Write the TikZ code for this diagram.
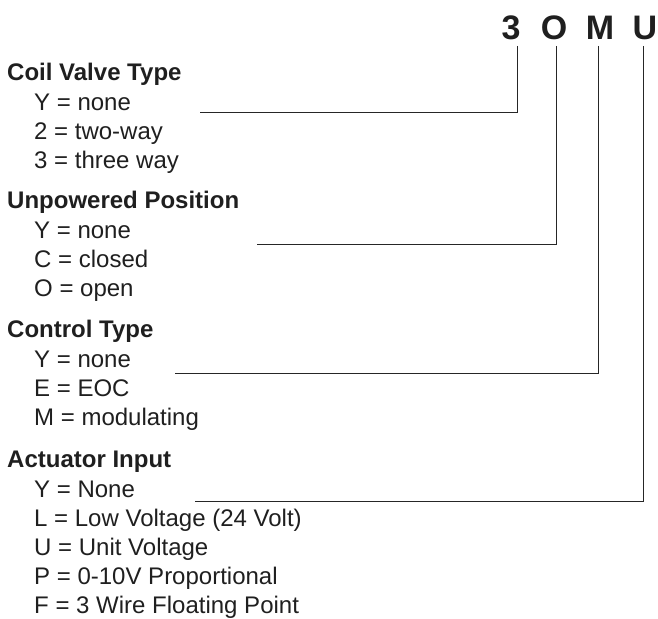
\documentclass[tikz,border=0pt]{standalone}
\usepackage{fontspec}
\setmainfont{Liberation Sans}
\begin{document}
\begin{tikzpicture}[x=1pt,y=-1pt,
  txt/.style={anchor=base west,inner sep=0pt,font=\fontsize{24}{27}\selectfont,text=black!88},
  head/.style={txt,font=\fontsize{24}{27}\selectfont\bfseries},
  code/.style={anchor=base,inner sep=0pt,font=\fontsize{34}{38}\selectfont\bfseries,text=black!88},
  lead/.style={draw=black!85,line width=1pt}]
\useasboundingbox (0,0) rectangle (658,618);
% code letters
\node[code] (c3) at (511,39.3) {3};
\node[code] (cO) at (554,39.3) {O};
\node[code] (cM) at (600,39.3) {M};
\node[code] (cU) at (645,39.3) {U};
% section 1
\node[head] (h1) at (7,80) {Coil Valve Type};
\node[txt] (a1) at (34,110.5) {Y = none};
\node[txt] (a2) at (34,139.5) {2 = two-way};
\node[txt] (a3) at (34,168.5) {3 = three way};
% section 2
\node[head] (h2) at (7,208.5) {Unpowered Position};
\node[txt] (b1) at (34,238.5) {Y = none};
\node[txt] (b2) at (34,267.5) {C = closed};
\node[txt] (b3) at (34,296.5) {O = open};
% section 3
\node[head] (h3) at (7,337) {Control Type};
\node[txt] (d1) at (34,367) {Y = none};
\node[txt] (d2) at (34,396.5) {E = EOC};
\node[txt] (d3) at (34,425.5) {M = modulating};
% section 4
\node[head] (h4) at (7,467.5) {Actuator Input};
\node[txt] (e1) at (34,497) {Y = None};
\node[txt] (e2) at (34,526) {L = Low Voltage (24 Volt)};
\node[txt] (e3) at (34,555) {U = Unit Voltage};
\node[txt] (e4) at (34,584.5) {P = 0-10V Proportional};
\node[txt] (e5) at (34,613) {F = 3 Wire Floating Point};
% connector coordinates
\coordinate (t3) at (517,46);
\coordinate (t O) at (556.5,46);
\coordinate (tM) at (598.5,46);
\coordinate (tU) at (643,46);
\coordinate (k3) at (517,112.3);
\coordinate (kO) at (556.5,244);
\coordinate (kM) at (598.5,373.3);
\coordinate (kU) at (643,501.7);
\coordinate (l3) at (200,112.3);
\coordinate (lO) at (256.5,244);
\coordinate (lM) at (175,373.3);
\coordinate (lU) at (195,501.7);
\draw[lead] (t3) -- (k3) -- (l3);
\draw[lead] (t O) -- (kO) -- (lO);
\draw[lead] (tM) -- (kM) -- (lM);
\draw[lead] (tU) -- (kU) -- (lU);
\end{tikzpicture}
\end{document}
